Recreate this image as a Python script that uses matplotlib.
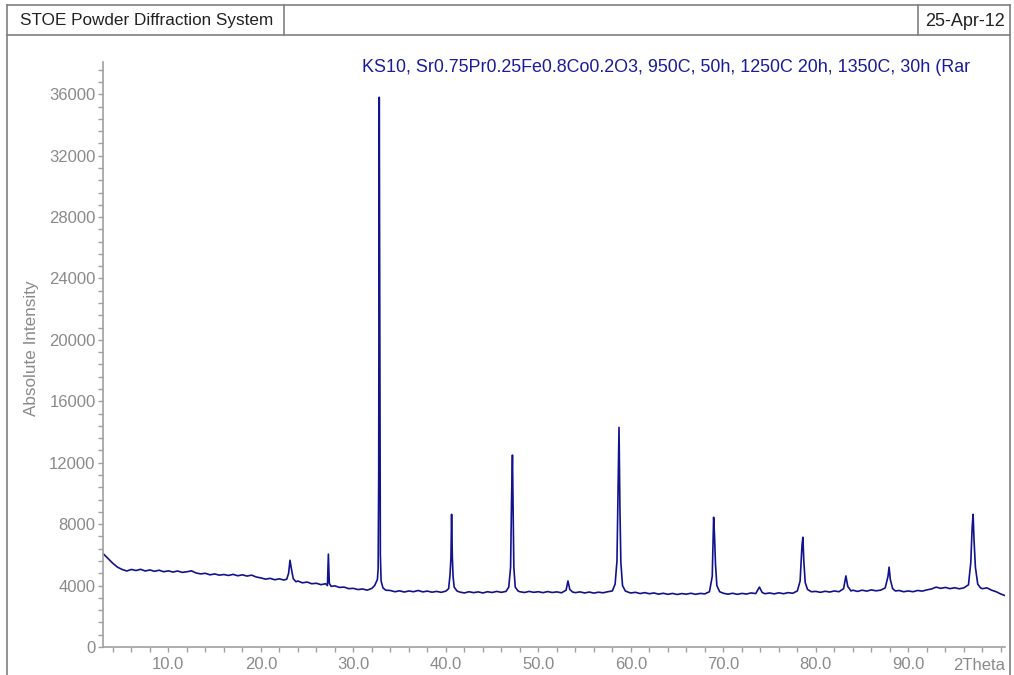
import matplotlib
matplotlib.use("Agg")
import matplotlib.pyplot as plt
from matplotlib.lines import Line2D
from matplotlib.ticker import MultipleLocator, FormatStrFormatter

# -------- Data --------
two_theta = [
    3.0, 3.5, 4.0, 4.5, 5.0, 5.5, 6.0, 6.5, 7.0, 7.5,
    8.0, 8.5, 9.0, 9.5, 10.0, 10.5, 11.0, 11.5, 12.0, 12.5,
    13.0, 13.5, 14.0, 14.5, 15.0, 15.5, 16.0, 16.5, 17.0, 17.5,
    18.0, 18.5, 19.0, 19.5, 20.0, 20.5, 21.0, 21.5, 22.0, 22.5,
    22.8, 23.0, 23.15, 23.3, 23.5, 23.8, 24.0, 24.5, 25.0, 25.5,
    26.0, 26.5, 27.0, 27.2, 27.3, 27.4, 27.6, 28.0, 28.5, 29.0,
    29.5, 30.0, 30.5, 31.0, 31.5, 32.0, 32.3, 32.6, 32.68, 32.74,
    32.8, 32.86, 32.92, 33.0, 33.2, 33.5, 34.0, 34.5, 35.0, 35.5,
    36.0, 36.5, 37.0, 37.5, 38.0, 38.5, 39.0, 39.5, 40.0, 40.3,
    40.45, 40.55, 40.62, 40.7, 40.78, 40.9, 41.2, 41.5, 42.0, 42.5,
    43.0, 43.5, 44.0, 44.5, 45.0, 45.5, 46.0, 46.5, 46.8, 47.0,
    47.1, 47.2, 47.28, 47.35, 47.5, 47.8, 48.0, 48.5, 49.0, 49.5,
    50.0, 50.5, 51.0, 51.5, 52.0, 52.5, 53.0, 53.2, 53.4, 53.7,
    54.0, 54.5, 55.0, 55.5, 56.0, 56.5, 57.0, 57.5, 58.0, 58.3,
    58.5, 58.62, 58.72, 58.82, 58.92, 59.1, 59.4, 59.8, 60.0, 60.5,
    61.0, 61.5, 62.0, 62.5, 63.0, 63.5, 64.0, 64.5, 65.0, 65.5,
    66.0, 66.5, 67.0, 67.5, 68.0, 68.5, 68.8, 68.95, 69.05, 69.15,
    69.3, 69.6, 70.0, 70.5, 71.0, 71.5, 72.0, 72.5, 73.0, 73.5,
    73.9, 74.2, 74.5, 75.0, 75.5, 76.0, 76.5, 77.0, 77.5, 78.0,
    78.3, 78.5, 78.6, 78.7, 78.85, 79.1, 79.5, 80.0, 80.5, 81.0,
    81.5, 82.0, 82.5, 83.0, 83.25, 83.45, 83.8, 84.0, 84.5, 85.0,
    85.5, 86.0, 86.5, 87.0, 87.5, 87.8, 87.92, 88.05, 88.3, 88.6,
    89.0, 89.5, 90.0, 90.5, 91.0, 91.5, 92.0, 92.5, 93.0, 93.5,
    94.0, 94.5, 95.0, 95.5, 96.0, 96.5, 96.75, 96.9, 97.0, 97.1,
    97.25, 97.5, 97.8, 98.0, 98.5, 99.0, 99.5, 100.0, 100.45,
]
counts = [
    6050, 5750, 5450, 5200, 5050, 4950, 5050, 4980, 5060, 4950,
    5020, 4930, 5000, 4900, 4960, 4880, 4950, 4860, 4900, 4960,
    4820, 4760, 4800, 4700, 4760, 4680, 4720, 4660, 4730, 4640,
    4700, 4620, 4680, 4560, 4500, 4420, 4470, 4380, 4440, 4360,
    4420, 4800, 5650, 5100, 4450, 4250, 4300, 4180, 4230, 4120,
    4150, 4060, 4120, 4000, 6050, 4150, 3950, 3980, 3880, 3900,
    3800, 3820, 3740, 3780, 3700, 3820, 4000, 4400, 5100, 11000,
    35800, 22000, 6000, 4300, 3850, 3700, 3680, 3600, 3660, 3580,
    3650, 3600, 3680, 3590, 3640, 3570, 3620, 3560, 3640, 3800,
    4700, 5800, 8640, 5900, 4600, 3900, 3650, 3580, 3520, 3600,
    3540, 3590, 3520, 3600, 3550, 3620, 3560, 3620, 3900, 5200,
    9500, 12500, 8300, 5200, 3900, 3650, 3600, 3550, 3620, 3560,
    3600, 3540, 3610, 3550, 3590, 3530, 3700, 4300, 3750, 3580,
    3540, 3590, 3520, 3580, 3510, 3570, 3530, 3600, 3650, 4100,
    5600, 10500, 14300, 9000, 5500, 4000, 3650, 3550, 3520, 3560,
    3480, 3540, 3470, 3520, 3440, 3500, 3430, 3490, 3420, 3480,
    3440, 3500, 3430, 3490, 3460, 3600, 4600, 8450, 7200, 5400,
    4000, 3600, 3500, 3440, 3500, 3430, 3490, 3450, 3520, 3480,
    3900, 3550, 3470, 3520, 3460, 3530, 3470, 3540, 3500, 3650,
    4300, 6600, 7150, 5600, 4200, 3750, 3600, 3620, 3560, 3630,
    3580, 3650, 3600, 3800, 4630, 3950, 3650, 3700, 3620, 3700,
    3640, 3720, 3660, 3700, 3850, 4600, 5200, 4400, 3800, 3650,
    3680, 3600, 3650, 3600, 3680, 3640, 3720, 3780, 3900, 3820,
    3880, 3800, 3860, 3790, 3850, 4050, 5500, 7800, 8640, 7000,
    5200, 4100, 3850, 3800, 3850, 3700, 3600, 3450, 3350,
]
assert len(two_theta) == len(counts)

sample_label = "KS10, Sr0.75Pr0.25Fe0.8Co0.2O3, 950C, 50h, 1250C 20h, 1350C, 30h (Rar"
x_ticks = [10, 20, 30, 40, 50, 60, 70, 80, 90]

plt.rcParams['font.family'] = ['Liberation Sans', 'DejaVu Sans']

W, H = 1014, 675
fig = plt.figure(figsize=(W / 100, H / 100), dpi=100)

def px(x, y):
    """pixel coords (top-left origin) -> figure fraction"""
    return x / W, 1 - y / H

# -------- Header box --------
frame_col = '#808080'
for (x0, y0), (x1, y1) in [((7, 5), (1010, 5)), ((7, 35), (1010, 35)),
                           ((7, 5), (7, 675)), ((1010, 5), (1010, 675)),
                           ((284, 5), (284, 35)), ((918, 5), (918, 35))]:
    a, b = px(x0, y0)
    c, d = px(x1, y1)
    fig.add_artist(Line2D([a, c], [b, d], color=frame_col, lw=1.2,
                          transform=fig.transFigure))

fig.text(*px(20, 21), "STOE Powder Diffraction System", fontsize=12.3,
         ha='left', va='center', color='#222222')
fig.text(*px(1005, 21), "25-Apr-12", fontsize=13,
         ha='right', va='center', color='#222222')

# -------- Plot --------
ax = fig.add_axes([102.5 / W, 1 - 647 / H, 902.5 / W, 585 / H])
ax.plot(two_theta, counts, color='#12128c', lw=1.2)

ax.set_xlim(2.88, 100.45)
ax.set_ylim(0, 38100)

ax.xaxis.set_major_locator(MultipleLocator(10))
ax.xaxis.set_minor_locator(MultipleLocator(2))
ax.set_xticks(x_ticks)
ax.xaxis.set_major_formatter(FormatStrFormatter('%.1f'))
ax.yaxis.set_major_locator(MultipleLocator(4000))
ax.yaxis.set_minor_locator(MultipleLocator(800))

axis_col = '#a0a0a0'
text_col = '#8a8a8a'
for s in ['top', 'right']:
    ax.spines[s].set_visible(False)
for s in ['left', 'bottom']:
    ax.spines[s].set_color(axis_col)
    ax.spines[s].set_linewidth(1.2)
ax.tick_params(which='both', length=3.5, width=1.0, color=axis_col,
               labelcolor=text_col, labelsize=12, direction='out')
ax.tick_params(axis='x', pad=3.5)
ax.tick_params(axis='y', pad=1.5)

ax.text(1.0, -0.0185, "2Theta", transform=ax.transAxes, ha='right', va='top',
        fontsize=12, color=text_col)
ax.set_ylabel("Absolute Intensity", fontsize=12.3, color=text_col)
ax.yaxis.set_label_coords(-0.0704, 0.511)

fig.text(*px(362, 68), sample_label, fontsize=12.9, ha='left', va='center',
         color='#1c1c9a')

fig.savefig("out.png", dpi=100)
